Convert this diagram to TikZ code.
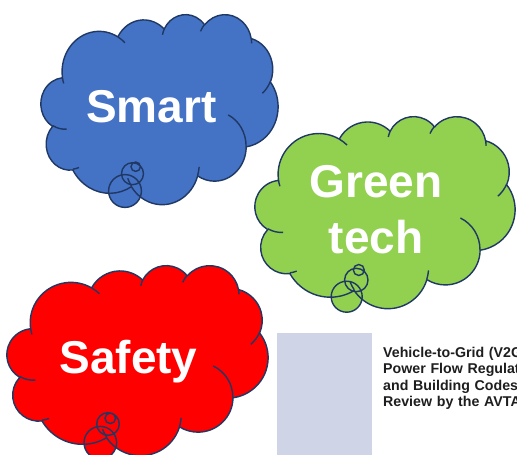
\documentclass[tikz,border=0pt]{standalone}
\usepackage{fontspec}
\setmainfont{Liberation Sans}

\definecolor{smartblue}{HTML}{4472C4}
\definecolor{techgreen}{HTML}{92D050}
\definecolor{safetyred}{HTML}{FF0000}
\definecolor{cloudedge}{HTML}{1F3864}
\definecolor{thumbgray}{HTML}{CFD5E7}
\definecolor{thumbtext}{HTML}{1E1E1E}

\tikzset{
  declare function={
    pang(\u,\v,\t)=atan2(\u*sin(\t),\v*cos(\t));
    darc(\u,\v,\s,\w)=pang(\u,\v,\s+\w)-pang(\u,\v,\s)-360*round((pang(\u,\v,\s+\w)-pang(\u,\v,\s)-\w)/360);
  },
  cloudline/.style={draw=cloudedge, line width=1.4pt, line join=round},
  bubble/.style={draw=cloudedge, line width=1.4pt},
  cloudlabel/.style={text=white, inner sep=0pt, font=\bfseries\fontsize{46}{46}\selectfont},
}

% cloud outline, box = 432 x 432 units
\newcommand\cloudpath{(39.00,143.70)
  \foreach \rx/\ry/\sa/\sw in {67.53/91.90/-190.4875/123.7805, 53.33/72.67/-144.1024/89.9452,
      43.65/59.45/-145.8079/99.7230, 48.57/65.95/-130.9861/117.2417, 53.33/72.73/-78.7089/109.0269,
      67.75/92.20/-46.2673/130.2690, 57.85/78.67/0.6250/114.0333, 67.52/92.15/22.4516/115.1726,
      77.20/105.43/66.2426/75.7110, 43.60/59.18/-274.9421/146.7356, 43.45/59.45/-246.8285/152.5189}
  {arc[x radius=\rx, y radius=\ry, start angle={pang(\rx,\ry,\sa)}, delta angle={darc(\rx,\ry,\sa,\sw)}]}
  -- cycle}
% the short inner arcs
\newcommand\cloudcreases{
  \foreach \px/\py/\rx/\ry/\sa/\sw in {46.93/261.77/43.45/59.45/86.7420/26.4295,
      69.28/348.99/43.60/59.18/73.6105/11.4475, 164.78/390.90/67.52/92.15/137.6242/14.0811,
      288.27/347.51/67.52/92.15/6.4533/15.9984, 341.29/229.54/57.85/78.67/-70.2924/70.9174,
      417.98/153.54/53.33/72.73/30.3180/27.7515, 383.24/54.26/48.57/65.95/-13.7443/14.8589,
      290.78/39.52/48.57/65.95/-149.1815/18.1954, 221.41/47.20/43.65/59.45/-163.4943/17.6864,
      140.00/51.92/67.53/91.90/-66.7070/12.3194, 41.27/157.89/67.53/91.90/157.6544/11.8582}
  {(\px,\py) arc[x radius=\rx, y radius=\ry, start angle={pang(\rx,\ry,\sa)}, delta angle={darc(\rx,\ry,\sa,\sw)}]}}
% #1 corner, #2 #3 units, #4 colour, #5 bubbles
\newcommand\thoughtcloud[5]{
  \begin{scope}[shift={#1}, x=#2pt, y=-#3pt]
    \fill[#4] \cloudpath;
  \end{scope}
  \filldraw[bubble, fill=#4] #5;
  \begin{scope}[shift={#1}, x=#2pt, y=-#3pt]
    \draw[cloudline] \cloudpath \cloudcreases;
  \end{scope}}

\begin{document}
\begin{tikzpicture}[x=1pt, y=-1pt]
  \clip (0,0) rectangle (517,455);
  \fill[white] (0,0) rectangle (517,455);

  \thoughtcloud{(41,14)}{0.54861}{0.43981}{smartblue}
    {(125,191) circle[radius=16.4] (132.5,173.7) circle[radius=11] (135.7,166.7) circle[radius=4.7]}
  \thoughtcloud{(255,116)}{0.60185}{0.44444}{techgreen}
    {(346.7,296.7) circle[radius=15.5] (356.3,280) circle[radius=11.7] (358.8,270) circle[radius=5.5]}
  \thoughtcloud{(7,265)}{0.60417}{0.43981}{safetyred}
    {(100.3,442.7) circle[radius=16.3] (108,424) circle[radius=11.3] (110.3,418.3) circle[radius=5.3]}

  \node[cloudlabel, anchor=base] (smart) at (151.5,122) {Smart};
  \node[cloudlabel, anchor=base] (green) at (376,197.3) {Green};
  \node[cloudlabel, anchor=base] (tech) at (376,253) {tech};
  \node[cloudlabel, anchor=base] (safety) at (128.5,373.3) {Safety};

  % report thumbnail
  \fill[thumbgray] (277,333) rectangle (372,455);
  \node[anchor=base west, inner sep=0pt, text width=200pt, align=left, text=thumbtext,
    font=\bfseries\fontsize{14.2}{16.2}\selectfont] (report) at (383,357.7)
    {Vehicle-to-Grid (V2G\\Power Flow Regulat\\and Building Codes\\Review by the AVTA};
\end{tikzpicture}
\end{document}
